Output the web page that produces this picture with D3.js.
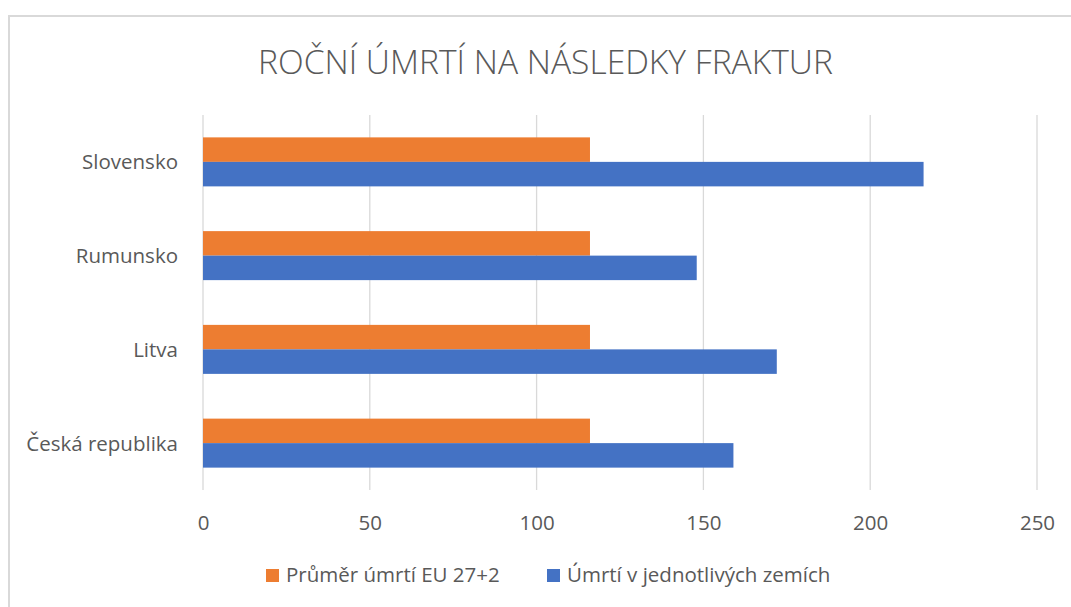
<!DOCTYPE html>
<html>
<head>
<meta charset="utf-8">
<script src="https://cdn.jsdelivr.net/npm/d3@7"></script>
<style>
  html, body { margin: 0; padding: 0; background: #fff; }
  svg { display: block; font-family: "Open Sans", sans-serif; }
</style>
</head>
<body>
<svg id="chart" width="1071" height="607"></svg>
<script>
const title = "ROČNÍ ÚMRTÍ NA NÁSLEDKY FRAKTUR";
const categories = ["Česká republika", "Litva", "Rumunsko", "Slovensko"];
const seriesNames = ["Průměr úmrtí EU 27+2", "Úmrtí v jednotlivých zemích"];
const euAverage = [116, 116, 116, 116];
const countryDeaths = [159, 172, 148, 216];
const xTicks = [0, 50, 100, 150, 200, 250];
const colors = ["#ED7D31", "#4472C4"];

const svg = d3.select("#chart");
const textColor = "#595959";
const gridColor = "#d9d9d9";

// chart border
svg.append("path")
  .attr("d", "M9,607 L9,16 L1071,16")
  .attr("fill", "none").attr("stroke", gridColor).attr("stroke-width", 2);

const plot = { left: 203, right: 1037, top: 115, bottom: 490 };

const x = d3.scaleLinear().domain([0, 250]).range([plot.left, plot.right]);
const y = d3.scaleBand().domain(categories.slice().reverse()).range([plot.top, plot.bottom]).padding(0);
const bandGap = y.bandwidth() * 0.4773;
const y1 = d3.scaleBand().domain(seriesNames).range([bandGap / 2, y.bandwidth() - bandGap / 2]).padding(0);

// gridlines
svg.append("g").selectAll("line").data(xTicks).join("line")
  .attr("x1", d => x(d)).attr("x2", d => x(d))
  .attr("y1", plot.top).attr("y2", plot.bottom)
  .attr("stroke", gridColor).attr("stroke-width", 1.3);

// bars
const rows = categories.map((c, i) => ({ cat: c, vals: [euAverage[i], countryDeaths[i]] }));
const groups = svg.append("g").selectAll("g").data(rows).join("g")
  .attr("transform", d => `translate(0,${y(d.cat)})`);
groups.selectAll("rect").data(d => d.vals.map((v, j) => ({ v, s: seriesNames[j], c: colors[j] })))
  .join("rect")
  .attr("x", x(0))
  .attr("y", d => y1(d.s))
  .attr("width", d => x(d.v) - x(0))
  .attr("height", y1.bandwidth())
  .attr("fill", d => d.c);

// x axis labels
const xAxis = d3.axisBottom(x).tickValues(xTicks).tickSize(0).tickPadding(0);
const xg = svg.append("g").attr("transform", `translate(0,${plot.bottom})`).call(xAxis);
xg.select(".domain").remove();
xg.selectAll("text").attr("y", 40).attr("dy", 0)
  .attr("fill", textColor).style("font-size", "20.5px").style("font-family", "Open Sans");

// y axis labels
const yAxis = d3.axisLeft(y).tickSize(0).tickPadding(0);
const yg = svg.append("g").attr("transform", `translate(178,0)`).call(yAxis);
yg.select(".domain").remove();
yg.selectAll("text").attr("x", 0).attr("dy", "0.36em")
  .attr("fill", textColor).style("font-size", "20.5px").style("font-family", "Open Sans");

// title
const t = svg.append("text").attr("x", 545.5).attr("y", 74).attr("text-anchor", "middle")
  .attr("fill", textColor).style("font-size", "36px").style("font-weight", 300).text(title);
const tw = t.node().getComputedTextLength();
t.style("font-size", (36 * 575 / tw).toFixed(2) + "px");

// legend
const legendX = [266, 547];
const lg = svg.append("g").selectAll("g").data(seriesNames).join("g")
  .attr("transform", (d, i) => `translate(${legendX[i]},569)`);
lg.append("rect").attr("width", 13).attr("height", 13).attr("fill", (d, i) => colors[i]);
lg.append("text").attr("x", 20).attr("y", 13).attr("fill", textColor)
  .style("font-size", "20.5px").text(d => d);
</script>
</body>
</html>
